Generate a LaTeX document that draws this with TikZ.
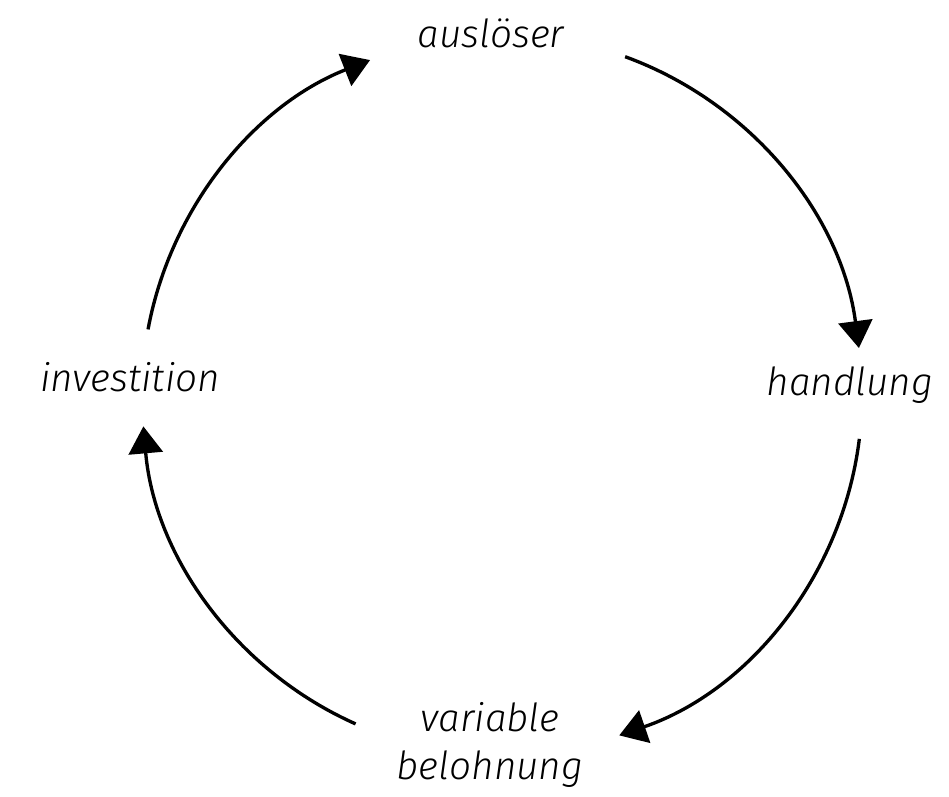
\documentclass[tikz,border=0pt]{standalone}
\usepackage{fontspec}
\setmainfont{Fira Sans Light Italic}
\usepackage{tikz}
\usetikzlibrary{arrows.meta}

\begin{document}
\begin{tikzpicture}[x=0.02cm, y=0.02cm,
    >={Triangle[width=0.68cm, length=0.54cm]},
    step label/.style={font=\fontsize{22}{27}\selectfont, align=center, inner sep=0pt},
    cycle arc/.style={->, line width=1.9pt}]
  \useasboundingbox (0,0) rectangle (949,796);

  % stages of the loop
  \node[step label] (trigger) at (491,763) {auslöser};
  \node[step label] (action) at (850,411) {handlung};
  \node[step label] (reward) at (490,51) {variable\\belohnung};
  \node[step label] (invest) at (130,419) {investition};

  % arcs on a circle round the middle
  \coordinate (mid) at (502,401);
  \draw[cycle arc] ([shift={(70:360)}]mid) arc[start angle=70, end angle=7.5, radius=360];
  \draw[cycle arc] ([shift={(-7:360)}]mid) arc[start angle=-7, end angle=-71, radius=360];
  \draw[cycle arc] ([shift={(-114:360)}]mid) arc[start angle=-114, end angle=-175, radius=360];
  \draw[cycle arc] ([shift={(169.5:360)}]mid) arc[start angle=169.5, end angle=111.5, radius=360];
\end{tikzpicture}
\end{document}
